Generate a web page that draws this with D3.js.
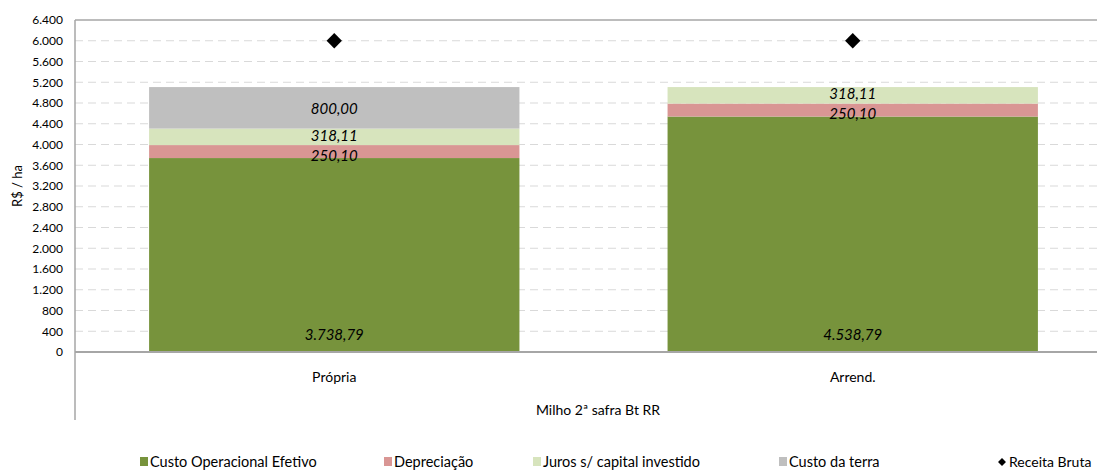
<!DOCTYPE html>
<html>
<head>
<meta charset="utf-8">
<script src="https://cdn.jsdelivr.net/npm/d3@7"></script>
<style>
  body { margin: 0; background: #fff; }
  svg text { font-family: Lato, "Open Sans", sans-serif; fill: #000; }
</style>
</head>
<body>
<div id="chart"></div>
<script>
// data
var categories = ["Própria", "Arrend."];
var custoOperacional = [3738.79, 4538.79];
var depreciacao = [250.10, 250.10];
var juros = [318.11, 318.11];
var custoTerra = [800.00, 0];
var receitaBruta = [6000, 6000];
var yTicks = [0, 400, 800, 1200, 1600, 2000, 2400, 2800, 3200, 3600, 4000, 4400, 4800, 5200, 5600, 6000, 6400];

var seriesNames = ["Custo Operacional Efetivo", "Depreciação", "Juros s/ capital investido", "Custo da terra"];
var seriesColors = ["#77933C", "#D99694", "#D7E4BD", "#BFBFBF"];
var seriesValues = [custoOperacional, depreciacao, juros, custoTerra];

var W = 1097, H = 473;
var margin = {top: 20, left: 75};
var plotRight = 1112, plotBottom = 352;

var svg = d3.select("#chart").append("svg")
    .attr("width", W)
    .attr("height", H);

var x = d3.scaleBand()
    .domain(categories)
    .range([margin.left, plotRight])
    .paddingInner(0.2857)
    .paddingOuter(0.1429);

var y = d3.scaleLinear()
    .domain([0, 6400])
    .range([plotBottom, margin.top]);

var fmt = function(v){
    var s = d3.format(",.2f")(v);
    return s.replace(/,/g, "#").replace(".", ",").replace(/#/g, ".");
};

// gridlines
svg.append("g").selectAll("line")
    .data(yTicks.filter(function(d){ return d > 0 && d < 6400; }))
    .enter().append("line")
    .attr("x1", margin.left).attr("x2", W)
    .attr("y1", function(d){ return y(d); })
    .attr("y2", function(d){ return y(d); })
    .attr("stroke", "#D9D9D9")
    .attr("stroke-width", 1)
    .attr("stroke-dasharray", "8,5");

// top border
svg.append("line")
    .attr("x1", margin.left).attr("x2", W)
    .attr("y1", y(6400)).attr("y2", y(6400))
    .attr("stroke", "#A6A6A6").attr("stroke-width", 1.5);

// stacked data
var stacked = categories.map(function(c, i){
    var base = 0;
    return seriesValues.map(function(s, k){
        var seg = {cat: c, k: k, y0: base, y1: base + s[i], v: s[i]};
        base += s[i];
        return seg;
    });
});

var groups = svg.selectAll(".bar")
    .data(stacked)
    .enter().append("g")
    .attr("class", "bar");

groups.selectAll("rect")
    .data(function(d){ return d.filter(function(s){ return s.v > 0; }); })
    .enter().append("rect")
    .attr("x", function(d){ return x(d.cat); })
    .attr("width", x.bandwidth())
    .attr("y", function(d){ return y(d.y1); })
    .attr("height", function(d){ return y(d.y0) - y(d.y1); })
    .attr("fill", function(d){ return seriesColors[d.k]; });

// labels
groups.selectAll("text")
    .data(function(d){ return d.filter(function(s){ return s.v > 0; }); })
    .enter().append("text")
    .attr("x", function(d){ return x(d.cat) + x.bandwidth() / 2; })
    .attr("y", function(d){
        if (d.k === 0) return y(d.y0) - 12;
        if (d.k === 1) return (y(d.y0) + y(d.y1)) / 2 + 9;
        if (d.k === 2) return (y(d.y0) + y(d.y1)) / 2 + 4;
        return (y(d.y0) + y(d.y1)) / 2 + 6;
    })
    .attr("text-anchor", "middle")
    .style("font-size", "15px")
    .style("font-style", "italic")
    .text(function(d){ return fmt(d.v); });

// receita bruta markers
svg.selectAll(".rb")
    .data(receitaBruta)
    .enter().append("path")
    .attr("class", "rb")
    .attr("d", d3.symbol().type(d3.symbolDiamond2).size(150))
    .attr("transform", function(d, i){
        return "translate(" + (x(categories[i]) + x.bandwidth() / 2) + "," + y(d) + ")";
    })
    .attr("fill", "#000");

// y axis
var yAxis = d3.axisLeft(y)
    .tickValues(yTicks)
    .tickSize(0)
    .tickPadding(12)
    .tickFormat(function(d){ return d3.format(",")(d).replace(/,/g, "."); });

var ya = svg.append("g")
    .attr("transform", "translate(" + margin.left + ",0)")
    .call(yAxis);
ya.select(".domain").remove();
ya.selectAll("text").style("font-size", "12px").attr("fill", "#000");

svg.append("line")
    .attr("x1", margin.left).attr("x2", margin.left)
    .attr("y1", margin.top).attr("y2", 420)
    .attr("stroke", "#A6A6A6").attr("stroke-width", 1.5);

// x axis line
svg.append("line")
    .attr("x1", margin.left).attr("x2", W)
    .attr("y1", plotBottom).attr("y2", plotBottom)
    .attr("stroke", "#A6A6A6").attr("stroke-width", 2);

svg.selectAll(".cat")
    .data(categories)
    .enter().append("text")
    .attr("class", "cat")
    .attr("x", function(d){ return x(d) + x.bandwidth() / 2; })
    .attr("y", 382)
    .attr("text-anchor", "middle")
    .style("font-size", "14px")
    .text(function(d){ return d; });

svg.append("text")
    .attr("x", 598)
    .attr("y", 415)
    .attr("text-anchor", "middle")
    .style("font-size", "14px")
    .text("Milho 2ª safra Bt RR");

svg.append("text")
    .attr("transform", "translate(22," + ((margin.top + plotBottom) / 2) + ") rotate(-90)")
    .attr("text-anchor", "middle")
    .style("font-size", "13px")
    .text("R$ / ha");

// legend
var legendX = [140, 384, 533, 779];
var legend = svg.append("g");
seriesNames.forEach(function(n, i){
    legend.append("rect")
        .attr("x", legendX[i]).attr("y", 457)
        .attr("width", 8).attr("height", 9)
        .attr("fill", seriesColors[i]);
    legend.append("text")
        .attr("x", legendX[i] + 10).attr("y", 467)
        .style("font-size", "14.5px")
        .text(n);
});
legend.append("path")
    .attr("d", d3.symbol().type(d3.symbolDiamond2).size(40))
    .attr("transform", "translate(1002,462)")
    .attr("fill", "#000");
legend.append("text")
    .attr("x", 1009).attr("y", 467)
    .style("font-size", "14px")
    .text("Receita Bruta");
</script>
</body>
</html>
